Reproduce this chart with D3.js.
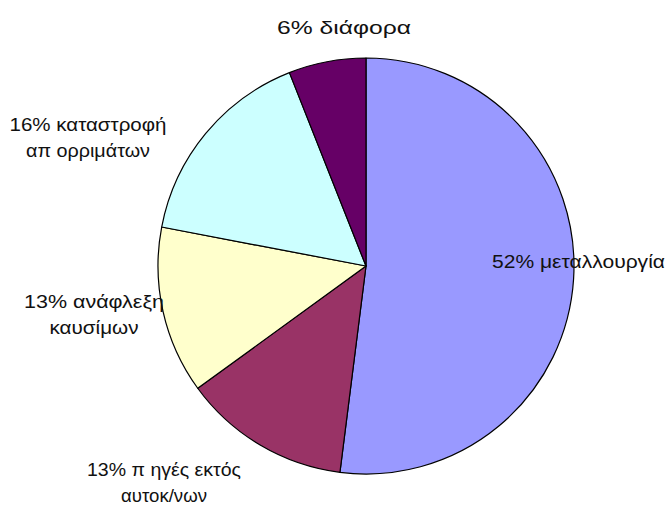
<!DOCTYPE html>
<html>
<head>
<meta charset="utf-8">
<script src="https://cdn.jsdelivr.net/npm/d3@7"></script>
<style>
  html, body { margin: 0; padding: 0; background: #fff; }
  svg { display: block; }
  text { font-family: "Liberation Sans", Arial, sans-serif; fill: #111; }
</style>
</head>
<body>
<svg id="chart" width="668" height="506"></svg>
<script>
// Data
const categories = ["μεταλλουργία", "πηγές εκτός αυτοκ/νων", "ανάφλεξη καυσίμων", "καταστροφή απορριμάτων", "διάφορα"];
const values = [52, 13, 13, 16, 6];
const labelLines = [
  ["52% μεταλλουργία"],
  ["13% π ηγές εκτός", "αυτοκ/νων"],
  ["13% ανάφλεξη", "καυσίμων"],
  ["16% καταστροφή", "απ ορριμάτων"],
  ["6% διάφορα"]
];
const colors = ["#9999FF", "#993366", "#FFFFCC", "#CCFFFF", "#660066"];

// Layout (not data)
const cx = 366, cy = 266, radius = 208;
const labelLayout = [
  { x: 492, y: 268, anchor: "start", widths: [173] },
  { x: 164, y: 476, anchor: "middle", widths: [154, 86] },
  { x: 94, y: 308, anchor: "middle", widths: [140, 89] },
  { x: 88, y: 131, anchor: "middle", widths: [157, 124] },
  { x: 344, y: 34, anchor: "middle", widths: [134] }
];
const lineGap = 26;

const svg = d3.select("#chart");
const g = svg.append("g").attr("transform", `translate(${cx},${cy})`);

const pie = d3.pie().sort(null).value(d => d.v);
const arc = d3.arc().innerRadius(0).outerRadius(radius);
const color = d3.scaleOrdinal().domain(categories).range(colors);

const data = categories.map((c, i) => ({ c, v: values[i], i }));

g.selectAll("path")
  .data(pie(data))
  .join("path")
  .attr("d", arc)
  .attr("fill", d => color(d.data.c))
  .attr("stroke", "#000")
  .attr("stroke-width", 1.2)
  .attr("stroke-linejoin", "round");

const labels = svg.append("g");
data.forEach((d, i) => {
  const L = labelLayout[i];
  labelLines[i].forEach((line, k) => {
    labels.append("text")
      .attr("text-anchor", L.anchor)
      .attr("font-size", 18)
      .attr("x", L.x)
      .attr("y", L.y + k * lineGap)
      .attr("textLength", L.widths[k])
      .attr("lengthAdjust", "spacingAndGlyphs")
      .text(line);
  });
});
</script>
</body>
</html>
